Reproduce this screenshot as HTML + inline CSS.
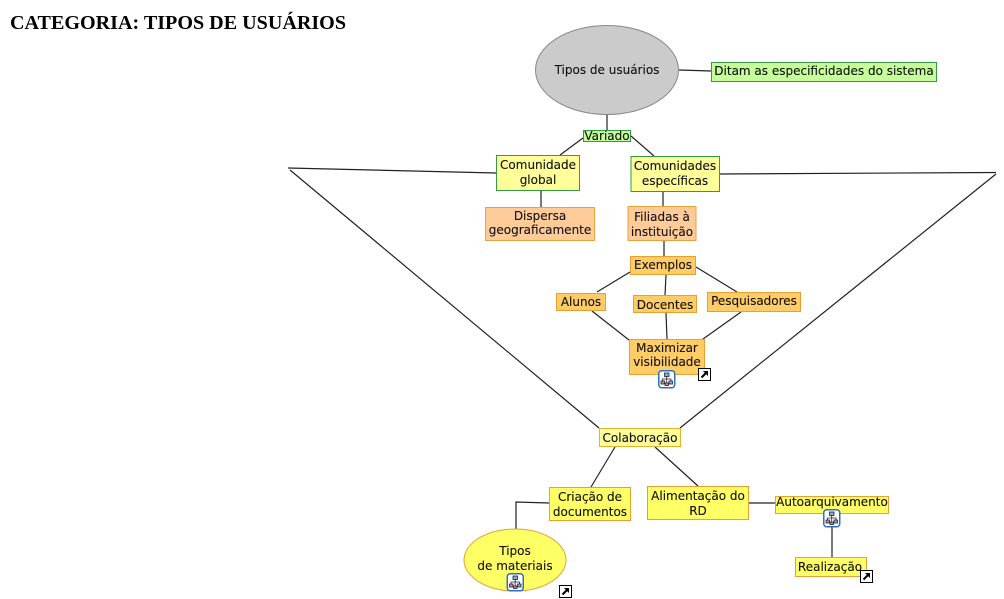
<!DOCTYPE html>
<html><head><meta charset="utf-8"><style>
html,body{margin:0;padding:0;background:#fff}
svg{display:block}
.t{font-family:"DejaVu Sans","Liberation Sans",sans-serif;font-size:12px;fill:#111;text-anchor:middle;stroke:#111;stroke-width:.12}
.l{stroke:#222;stroke-width:1.2;fill:none}
</style></head><body>
<svg width="1004" height="599" viewBox="0 0 1004 599" xmlns="http://www.w3.org/2000/svg">
<defs>
<g id="ic"><rect x="0.75" y="0.75" width="16" height="17" rx="3" fill="#fff" stroke="#2f6fc0" stroke-width="1.5"/>
<rect x="6.5" y="3" width="4.5" height="3.5" fill="#8aa8e0" stroke="#223" stroke-width=".8"/>
<path d="M8.7 6.5V9M4.5 11V9H13V11M8.7 9V13" fill="none" stroke="#223" stroke-width=".8"/>
<rect x="3" y="11" width="3.5" height="3" fill="#c88" stroke="#223" stroke-width=".8"/>
<rect x="11" y="11" width="3.5" height="3" fill="#8aa8e0" stroke="#223" stroke-width=".8"/>
<rect x="7" y="13" width="3.5" height="2.5" fill="#c88" stroke="#223" stroke-width=".8"/></g>
<g id="ar"><rect x="0.5" y="0.5" width="12" height="12" fill="#fff" stroke="#000"/>
<path d="M3.5 9.5L8 5" stroke="#000" stroke-width="2"/><path d="M5 3H10V8Z" fill="#000"/></g>
</defs>
<text x="10" y="29" font-family="Liberation Serif,serif" font-weight="bold" font-size="20" fill="#000" textLength="336" lengthAdjust="spacingAndGlyphs">CATEGORIA: TIPOS DE USUÁRIOS</text>

<path class="l" d="M679 70L711 71M607 115V130M583 138L560 155M631 136L654 156M496 173L288 168M290 170L599 428M720 174L996 172.5M996 174L680 428M541 191V207M663 191V206M664 241V256M630 272L597 292M666 275L665 295M696 267L737 292M592 311L629 340M666 313L667 339M741 312L703 339M615 447L591 487M655 447L698 486M549 503L516 502V529M749 503H775M832 527V557"/>

<ellipse cx="607" cy="70" rx="71.5" ry="44.5" fill="#cbcbcb" stroke="#888"/>
<rect x="711.5" y="62.5" width="225" height="19" fill="#c6ff99" stroke="#339944"/>
<rect x="583.5" y="130.5" width="47" height="11" fill="#c6ff99" stroke="#339944"/>
<rect x="496.5" y="155.5" width="83" height="35" fill="#ffff99" stroke="#339944"/>
<rect x="631" y="156.5" width="88.5" height="35" fill="#ffff99" stroke="#339944"/>
<rect x="485.5" y="207.5" width="109" height="33" fill="#ffcc99" stroke="#e8a040"/>
<rect x="628" y="206.5" width="68" height="34" fill="#ffcc99" stroke="#e8a040"/>
<rect x="630.5" y="256.5" width="65" height="18" fill="#ffcc66" stroke="#e8a030"/>
<rect x="556.5" y="293.5" width="49" height="17" fill="#ffcc66" stroke="#e8a030"/>
<rect x="633.5" y="295.5" width="63" height="17" fill="#ffcc66" stroke="#e8a030"/>
<rect x="707.5" y="292.5" width="93" height="19" fill="#ffcc66" stroke="#e8a030"/>
<rect x="629.5" y="339.5" width="75" height="35" fill="#ffcc66" stroke="#e8a030"/>
<rect x="599.5" y="428.5" width="81" height="18" fill="#ffff99" stroke="#e8b030"/>
<rect x="647.5" y="486.5" width="101" height="33" fill="#ffff66" stroke="#e8a030"/>
<rect x="549.5" y="487.5" width="81" height="33" fill="#ffff66" stroke="#e8a030"/>
<rect x="775.5" y="496.5" width="113" height="17" fill="#ffff66" stroke="#e8a030"/>
<rect x="795.5" y="557.5" width="71" height="19" fill="#ffff66" stroke="#e8a030"/>
<ellipse cx="515" cy="560" rx="51" ry="31" fill="#ffff66" stroke="#e8a030"/>

<text class="t" x="607" y="74">Tipos de usuários</text>
<text class="t" x="824" y="75">Ditam as especificidades do sistema</text>
<text class="t" x="607" y="140">Variado</text>
<text class="t" x="538" y="169">Comunidade</text><text class="t" x="538" y="184">global</text>
<text class="t" x="675" y="170">Comunidades</text><text class="t" x="675" y="185">específicas</text>
<text class="t" x="540" y="220">Dispersa</text><text class="t" x="540" y="234">geograficamente</text>
<text class="t" x="662" y="221">Filiadas à</text><text class="t" x="662" y="236">instituição</text>
<text class="t" x="663" y="269">Exemplos</text>
<text class="t" x="581" y="306">Alunos</text>
<text class="t" x="665" y="309">Docentes</text>
<text class="t" x="754" y="305">Pesquisadores</text>
<text class="t" x="667" y="352">Maximizar</text><text class="t" x="667" y="366">visibilidade</text>
<text class="t" x="640" y="442">Colaboração</text>
<text class="t" x="698" y="500">Alimentação do</text><text class="t" x="698" y="515">RD</text>
<text class="t" x="590" y="501">Criação de</text><text class="t" x="590" y="516">documentos</text>
<text class="t" x="832" y="506">Autoarquivamento</text>
<text class="t" x="830" y="571">Realização</text>
<text class="t" x="515" y="555">Tipos</text><text class="t" x="515" y="570">de materiais</text>

<use href="#ic" x="658" y="370"/><use href="#ar" x="698" y="368"/>
<use href="#ic" x="506.5" y="573"/><use href="#ar" x="559" y="585"/>
<use href="#ic" x="823" y="509"/><use href="#ar" x="860" y="570"/>
</svg>
</body></html>
